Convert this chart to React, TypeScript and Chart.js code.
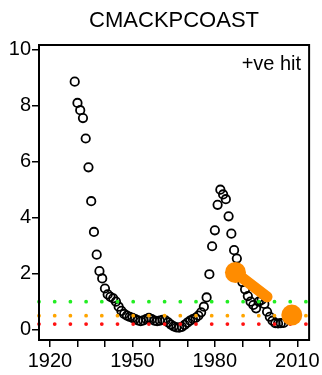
import React, { useEffect, useRef } from "react";
import { Chart, registerables } from "chart.js";

Chart.register(...registerables);

const titleText = "CMACKPCOAST";
const noteText = "+ve hit";

const years = [
  1929, 1930, 1931, 1932, 1933, 1934, 1935, 1936, 1937, 1938,
  1939, 1940, 1941, 1942, 1943, 1944, 1945, 1946, 1947, 1948,
  1949, 1950, 1951, 1952, 1953, 1954, 1955, 1956, 1957, 1958,
  1959, 1960, 1961, 1962, 1963, 1964, 1965, 1966, 1967, 1968,
  1969, 1970, 1971, 1972, 1973, 1974, 1975, 1976, 1977, 1978,
  1979, 1980, 1981, 1982, 1983, 1984, 1985, 1986, 1987, 1988,
  1989, 1990, 1991, 1992, 1993, 1994, 1995, 1996, 1997, 1998,
  1999, 2000, 2001, 2002, 2003, 2004, 2005,
];
const values = [
  8.86, 8.1, 7.84, 7.56, 6.83, 5.8, 4.59, 3.49, 2.68, 2.09,
  1.83, 1.47, 1.26, 1.17, 1.12, 1.0, 0.82, 0.67, 0.56, 0.5,
  0.46, 0.42, 0.38, 0.33, 0.3, 0.33, 0.38, 0.42, 0.38, 0.32,
  0.3, 0.32, 0.35, 0.33, 0.26, 0.18, 0.12, 0.08, 0.07, 0.1,
  0.17, 0.25, 0.32, 0.38, 0.42, 0.5, 0.62, 0.82, 1.15, 1.98,
  2.98, 3.55, 4.46, 5.0, 4.83, 4.66, 4.05, 3.43, 2.84, 2.54,
  2.1, 1.7, 1.44, 1.2, 1.0, 0.88, 0.76, 1.0, 1.06, 0.92,
  0.64, 0.46, 0.32, 0.23, 0.22, 0.23, 0.24,
];

const trendYears = [1987.5, 1999];
const trendValues = [2.04, 1.17];
const recentYears = [2008];
const recentValues = [0.52];

const thresholdValues = [1.0, 0.5, 0.2];
const thresholdColors = ["#22ee22", "#ffa500", "#ff1111"];

const xMin = 1916;
const xMax = 2014.3;
const yMin = -0.37;
const yMax = 10.17;
const xTicks = [1920, 1930, 1940, 1950, 1960, 1970, 1980, 1990, 2000, 2010];
const xTickLabels = [1920, 1950, 1980, 2010];
const yTicks = [0, 2, 4, 6, 8, 10];

const FONT = "'Liberation Sans', Arial, sans-serif";

export default function App() {
  const ref = useRef<HTMLCanvasElement | null>(null);

  useEffect(() => {
    if (!ref.current) return;

    const boxPlugin = {
      id: "boxAndText",
      afterDatasetsDraw(chart: any) {
        const { ctx, chartArea } = chart;
        ctx.save();
        ctx.strokeStyle = "#000";
        ctx.lineWidth = 2;
        ctx.strokeRect(
          chartArea.left,
          chartArea.top,
          chartArea.right - chartArea.left,
          chartArea.bottom - chartArea.top
        );
        ctx.fillStyle = "#000";
        ctx.textBaseline = "middle";
        ctx.font = `22px ${FONT}`;
        ctx.textAlign = "center";
        ctx.fillText(titleText, (chartArea.left + chartArea.right) / 2, 21);
        ctx.font = `20px ${FONT}`;
        ctx.textAlign = "right";
        ctx.fillText(noteText, chartArea.right - 8, chartArea.top + 19);
        ctx.restore();
      },
    };

    const thresholdDatasets = thresholdValues.map((v, i) => ({
      type: "line" as const,
      data: [
        { x: xMin, y: v },
        { x: xMax, y: v },
      ],
      borderColor: thresholdColors[i],
      borderWidth: 3.8,
      borderDash: [0, 15.7],
      borderCapStyle: "round" as const,
      pointRadius: 0,
      fill: false,
      clip: false as any,
      order: 2,
    }));

    const chart = new Chart(ref.current, {
      type: "scatter",
      data: {
        datasets: [
          {
            type: "scatter",
            data: years.map((y, i) => ({ x: y, y: values[i] })),
            pointRadius: 4.2,
            pointBorderWidth: 1.8,
            pointBorderColor: "#000",
            pointBackgroundColor: "rgba(0,0,0,0)",
            order: 3,
          } as any,
          ...thresholdDatasets,
          {
            type: "line",
            data: trendYears.map((y, i) => ({ x: y, y: trendValues[i] })),
            borderColor: "#ff8c00",
            borderWidth: 11,
            borderCapStyle: "round",
            pointRadius: [10.5, 0],
            pointBackgroundColor: "#ff8c00",
            pointBorderColor: "#ff8c00",
            pointBorderWidth: 0,
            fill: false,
            order: 1,
          } as any,
          {
            type: "scatter",
            data: recentYears.map((y, i) => ({ x: y, y: recentValues[i] })),
            pointRadius: 10.5,
            pointBackgroundColor: "#ff8c00",
            pointBorderColor: "#ff8c00",
            pointBorderWidth: 0,
            order: 1,
          } as any,
        ],
      },
      options: {
        responsive: false,
        animation: false,
        events: [],
        layout: { padding: { top: 45, right: 10, left: 0, bottom: 0 } },
        plugins: {
          legend: { display: false },
          tooltip: { enabled: false },
          title: { display: false },
        },
        scales: {
          x: {
            type: "linear",
            min: xMin,
            max: xMax,
            afterBuildTicks: (scale: any) => {
              scale.ticks = xTicks.map((v) => ({ value: v }));
            },
            afterFit: (scale: any) => {
              scale.height = 35;
            },
            grid: {
              drawOnChartArea: false,
              drawTicks: true,
              tickLength: 7,
              color: "#000",
              lineWidth: 1.5,
            },
            border: { display: true, color: "#000", width: 2 },
            ticks: {
              autoSkip: false,
              maxRotation: 0,
              padding: 2,
              color: "#000",
              font: { family: FONT, size: 20 },
              callback: (v: any) =>
                xTickLabels.includes(Number(v)) ? String(v) : "",
            },
          },
          y: {
            type: "linear",
            min: yMin,
            max: yMax,
            afterBuildTicks: (scale: any) => {
              scale.ticks = yTicks.map((v) => ({ value: v }));
            },
            afterFit: (scale: any) => {
              scale.width = 39;
            },
            grid: {
              drawOnChartArea: false,
              drawTicks: true,
              tickLength: 7,
              color: "#000",
              lineWidth: 1.5,
            },
            border: { display: true, color: "#000", width: 2 },
            ticks: {
              padding: 1,
              color: "#000",
              font: { family: FONT, size: 20 },
              callback: (v: any) => String(v),
            },
          },
        },
      } as any,
      plugins: [boxPlugin],
    });

    return () => chart.destroy();
  }, []);

  return (
    <div style={{ position: "absolute", left: 0, top: 0, width: 322, height: 375, background: "#fff" }}>
      <canvas ref={ref} width={322} height={375} style={{ display: "block" }} />
    </div>
  );
}
